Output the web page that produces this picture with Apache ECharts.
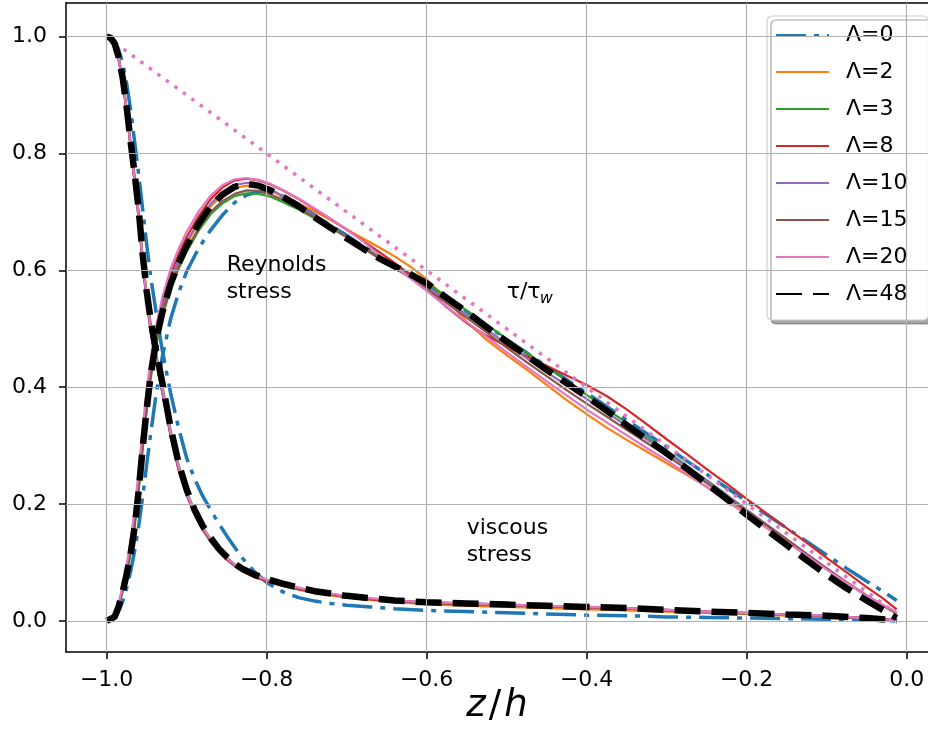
<!DOCTYPE html>
<html><head><meta charset="utf-8">
<script src="https://cdn.jsdelivr.net/npm/echarts@6/dist/echarts.min.js"></script>
<style>html,body{margin:0;padding:0;background:#fff}#c{width:928px;height:747px}</style>
</head><body><div id="c"></div>
<script>
// ---------- data ----------
const lambdaNames = ['Λ=0','Λ=2','Λ=3','Λ=8','Λ=10','Λ=15','Λ=20','Λ=48'];
const xTicks = [-1.0,-0.8,-0.6,-0.4,-0.2,0.0];
const yTicks = [0.0,0.2,0.4,0.6,0.8,1.0];

// Reynolds stress
const zR = [-1.0,-0.99,-0.985,-0.98,-0.975,-0.97,-0.965,-0.96,-0.955,-0.95,-0.945,-0.94,-0.935,-0.93,-0.92,-0.91,-0.9,-0.885,-0.87,-0.855,-0.84,-0.825,-0.81,-0.795,-0.78,-0.76,-0.74,-0.72,-0.7,-0.68,-0.66,-0.64,-0.62,-0.6,-0.575,-0.55,-0.525,-0.5,-0.475,-0.45,-0.425,-0.4,-0.375,-0.35,-0.325,-0.3,-0.275,-0.25,-0.225,-0.2,-0.175,-0.15,-0.125,-0.1,-0.075,-0.05,-0.03,-0.0125];
const R0  = [0,0.005,0.016,0.033,0.056,0.085,0.12,0.162,0.212,0.267,0.32,0.37,0.415,0.455,0.517,0.562,0.598,0.638,0.669,0.695,0.716,0.729,0.735,0.734,0.727,0.713,0.695,0.677,0.66,0.642,0.624,0.608,0.591,0.575,0.553,0.53,0.506,0.482,0.459,0.436,0.413,0.39,0.367,0.344,0.321,0.298,0.274,0.251,0.228,0.205,0.182,0.159,0.136,0.113,0.09,0.068,0.051,0.035];
const R2  = [0,0.008,0.027,0.053,0.085,0.122,0.168,0.23,0.302,0.368,0.424,0.466,0.503,0.533,0.58,0.615,0.645,0.682,0.71,0.729,0.741,0.745,0.742,0.736,0.727,0.714,0.701,0.686,0.67,0.655,0.64,0.624,0.606,0.585,0.55,0.512,0.481,0.455,0.43,0.404,0.378,0.354,0.331,0.31,0.29,0.27,0.25,0.23,0.207,0.185,0.161,0.137,0.113,0.089,0.066,0.044,0.027,0.012];
const R3  = [0,0.007,0.025,0.05,0.08,0.115,0.16,0.222,0.293,0.358,0.414,0.457,0.494,0.523,0.568,0.603,0.632,0.668,0.696,0.715,0.727,0.732,0.731,0.726,0.717,0.704,0.689,0.673,0.657,0.64,0.624,0.609,0.594,0.579,0.555,0.531,0.507,0.483,0.459,0.435,0.411,0.387,0.363,0.339,0.315,0.291,0.266,0.241,0.216,0.19,0.165,0.14,0.115,0.09,0.066,0.043,0.027,0.013];
const R8  = [0,0.008,0.028,0.056,0.09,0.13,0.18,0.245,0.318,0.383,0.437,0.48,0.516,0.546,0.593,0.628,0.657,0.693,0.722,0.742,0.754,0.757,0.754,0.747,0.737,0.722,0.705,0.688,0.67,0.651,0.632,0.613,0.592,0.568,0.537,0.51,0.488,0.47,0.453,0.437,0.42,0.404,0.385,0.362,0.337,0.311,0.286,0.26,0.235,0.209,0.184,0.159,0.134,0.108,0.083,0.058,0.039,0.02];
const R10 = [0,0.008,0.027,0.054,0.087,0.125,0.172,0.232,0.305,0.372,0.428,0.47,0.507,0.537,0.584,0.619,0.648,0.685,0.714,0.734,0.746,0.75,0.747,0.739,0.727,0.711,0.693,0.675,0.657,0.639,0.621,0.605,0.589,0.573,0.549,0.524,0.499,0.474,0.45,0.426,0.403,0.38,0.357,0.334,0.311,0.288,0.264,0.24,0.215,0.19,0.165,0.14,0.115,0.09,0.066,0.043,0.027,0.013];
const R15 = [0,0.007,0.026,0.052,0.083,0.12,0.166,0.228,0.3,0.366,0.421,0.463,0.499,0.528,0.573,0.607,0.636,0.672,0.7,0.719,0.731,0.737,0.736,0.73,0.721,0.707,0.691,0.674,0.657,0.639,0.621,0.604,0.587,0.569,0.544,0.519,0.494,0.468,0.443,0.419,0.395,0.372,0.35,0.327,0.305,0.283,0.26,0.236,0.212,0.188,0.164,0.139,0.114,0.09,0.066,0.043,0.027,0.014];
const R20 = [0,0.009,0.03,0.06,0.096,0.138,0.19,0.256,0.33,0.395,0.448,0.49,0.526,0.556,0.603,0.637,0.666,0.701,0.728,0.746,0.756,0.758,0.755,0.748,0.738,0.723,0.706,0.688,0.67,0.65,0.627,0.607,0.586,0.565,0.538,0.512,0.486,0.46,0.435,0.41,0.386,0.362,0.34,0.318,0.296,0.275,0.252,0.229,0.205,0.182,0.159,0.135,0.112,0.088,0.065,0.043,0.028,0.015];
const R48 = [0,0.007,0.025,0.05,0.08,0.115,0.16,0.222,0.295,0.362,0.42,0.463,0.5,0.53,0.577,0.612,0.642,0.68,0.71,0.73,0.743,0.748,0.745,0.737,0.726,0.71,0.691,0.673,0.655,0.638,0.621,0.607,0.593,0.578,0.553,0.529,0.503,0.478,0.454,0.43,0.407,0.384,0.36,0.335,0.311,0.287,0.261,0.235,0.209,0.182,0.156,0.13,0.104,0.079,0.056,0.035,0.019,0.005];

// viscous stress
const zV = [-1.0,-0.995,-0.99,-0.985,-0.98,-0.975,-0.97,-0.965,-0.96,-0.955,-0.95,-0.945,-0.94,-0.935,-0.93,-0.92,-0.91,-0.9,-0.89,-0.88,-0.87,-0.86,-0.85,-0.84,-0.83,-0.815,-0.8,-0.78,-0.76,-0.74,-0.72,-0.7,-0.67,-0.64,-0.6,-0.55,-0.5,-0.45,-0.4,-0.35,-0.3,-0.25,-0.2,-0.15,-0.1,-0.05,-0.0125];
const V0  = [1.0,0.999,0.993,0.978,0.955,0.92,0.875,0.82,0.765,0.705,0.645,0.59,0.545,0.5,0.46,0.39,0.33,0.279,0.243,0.214,0.19,0.167,0.146,0.126,0.107,0.084,0.066,0.05,0.04,0.034,0.03,0.027,0.024,0.021,0.018,0.016,0.014,0.012,0.01,0.009,0.007,0.006,0.005,0.004,0.003,0.002,0.0];
const V2  = [1.0,0.998,0.987,0.963,0.927,0.876,0.815,0.758,0.697,0.62,0.556,0.505,0.465,0.43,0.395,0.322,0.264,0.22,0.186,0.16,0.139,0.122,0.108,0.096,0.087,0.077,0.07,0.061,0.054,0.048,0.044,0.04,0.036,0.032,0.029,0.026,0.024,0.022,0.02,0.018,0.016,0.014,0.012,0.009,0.007,0.004,0.001];
const V3  = [1.0,0.998,0.988,0.964,0.929,0.878,0.818,0.762,0.701,0.624,0.56,0.51,0.47,0.435,0.4,0.326,0.267,0.222,0.188,0.161,0.14,0.123,0.109,0.097,0.088,0.078,0.071,0.063,0.056,0.05,0.046,0.042,0.038,0.034,0.031,0.029,0.027,0.025,0.023,0.021,0.018,0.015,0.013,0.01,0.008,0.004,0.001];
const V8  = [1.0,0.998,0.986,0.961,0.924,0.872,0.81,0.752,0.69,0.612,0.548,0.497,0.457,0.422,0.388,0.316,0.258,0.215,0.182,0.156,0.136,0.119,0.105,0.094,0.085,0.075,0.068,0.06,0.054,0.049,0.045,0.041,0.037,0.034,0.031,0.029,0.027,0.025,0.023,0.021,0.018,0.016,0.013,0.011,0.008,0.005,0.001];
const V10 = [1.0,0.998,0.986,0.96,0.922,0.87,0.808,0.75,0.688,0.61,0.547,0.497,0.458,0.423,0.389,0.317,0.259,0.216,0.183,0.157,0.137,0.12,0.106,0.095,0.086,0.077,0.07,0.062,0.056,0.05,0.046,0.042,0.038,0.035,0.032,0.03,0.028,0.026,0.024,0.022,0.019,0.016,0.014,0.011,0.009,0.005,0.001];
const V15 = [1.0,0.998,0.987,0.962,0.925,0.874,0.812,0.755,0.694,0.616,0.552,0.502,0.462,0.427,0.393,0.321,0.262,0.218,0.185,0.158,0.138,0.121,0.107,0.096,0.087,0.077,0.07,0.063,0.056,0.05,0.046,0.042,0.038,0.035,0.032,0.03,0.028,0.026,0.024,0.022,0.019,0.016,0.014,0.011,0.009,0.005,0.001];
const V20 = [1.0,0.998,0.987,0.963,0.926,0.875,0.814,0.757,0.696,0.618,0.554,0.504,0.464,0.429,0.395,0.323,0.264,0.22,0.186,0.16,0.14,0.122,0.108,0.097,0.088,0.078,0.071,0.063,0.057,0.051,0.047,0.043,0.039,0.035,0.032,0.03,0.028,0.026,0.024,0.022,0.019,0.016,0.014,0.011,0.009,0.005,0.001];
const V48 = [1.0,0.998,0.988,0.965,0.93,0.88,0.82,0.765,0.705,0.628,0.565,0.515,0.475,0.44,0.405,0.33,0.27,0.225,0.19,0.163,0.142,0.124,0.11,0.098,0.089,0.079,0.072,0.064,0.057,0.051,0.047,0.043,0.039,0.035,0.032,0.03,0.028,0.026,0.024,0.022,0.019,0.016,0.014,0.011,0.009,0.005,0.001];

// total stress tau/tau_w (dotted)
const tauZ = [-1.0,-0.0125];
const tauY = [1.0,0.0125];

// ---------- chart ----------
const FONT = 'DejaVu Sans';
const colors = ['#1f77b4','#ff7f0e','#2ca02c','#d62728','#9467bd','#8c564b','#e377c2','#000000'];
const Rs = [R0,R2,R3,R8,R10,R15,R20,R48];
const Vs = [V0,V2,V3,V8,V10,V15,V20,V48];
const pair = (xs, ys) => xs.map((x,i)=>[x, ys[i]]);
function styleFor(i){
  if (i===0) return {color:colors[0], width:3.5, type:[30,8,5,8]};
  if (i===7) return {color:'#000', width:6.5, type:[26,11]};
  return {color:colors[i], width:2.2, type:'solid'};
}
const minus = v => (v<0?'\u2212':'') + Math.abs(v).toFixed(1);

const series = [];
series.push({
  name:'grid', type:'line', data:[[xTicks[0], yTicks[0]]], showSymbol:false, symbol:'none',
  lineStyle:{opacity:0}, z:1, silent:true,
  markLine:{silent:true, symbol:['none','none'], label:{show:false}, animation:false,
    lineStyle:{color:'#b0b0b0', width:1.2, type:'solid'},
    data:[...xTicks.map(v=>({xAxis:v})), ...yTicks.map(v=>({yAxis:v}))]}
});
for (let i=0;i<8;i++){
  const ls = styleFor(i);
  const common = {type:'line', name:lambdaNames[i], symbol:'none', showSymbol:false,
    smooth:false, color:ls.color, lineStyle:ls, z:2};
  if (i===7) series.push({type:'line', name:'tau', data:pair(tauZ,tauY), symbol:'none', showSymbol:false,
      color:'#e377c2', lineStyle:{color:'#e377c2', width:3.5, type:[3.5,7]}, z:2});
  series.push(Object.assign({}, common, {data:pair(zR, Rs[i])}));
  series.push(Object.assign({}, common, {data:pair(zV, Vs[i])}));
}

const XMIN=-1.0508, XMAX=0.0267, YMIN=-0.0531, YMAX=1.0576;
const chart = echarts.init(document.getElementById('c'), null, {renderer:'canvas'});
chart.setOption({
  animation:false,
  backgroundColor:'#fff',
  grid:{left:66, right:0, top:3, bottom:95, containLabel:false},
  xAxis:[{
    type:'value', min:XMIN, max:XMAX, position:'bottom',
    axisLine:{show:true, onZero:false, lineStyle:{color:'#000', width:1.5}},
    axisTick:{show:true, inside:false, length:7, customValues:xTicks, lineStyle:{color:'#000', width:1.5}},
    axisLabel:{show:true, customValues:xTicks, formatter:minus, margin:17, fontSize:22, fontFamily:FONT, color:'#000'},
    splitLine:{show:false},
    name:'{i|z}{s|/}{i|h}', nameLocation:'middle', nameGap:36, nameMoveOverlap:false,
    nameTextStyle:{fontSize:37, fontFamily:FONT, color:'#000',
      rich:{i:{fontSize:37, fontStyle:'italic', fontFamily:FONT, color:'#000'},
            s:{fontSize:37, fontFamily:FONT, color:'#000', padding:[0,3,0,3]}}}
  },{
    type:'value', min:XMIN, max:XMAX, position:'top',
    axisLine:{show:true, onZero:false, lineStyle:{color:'#000', width:1.5}},
    axisTick:{show:false}, axisLabel:{show:false}, splitLine:{show:false}
  }],
  yAxis:{
    type:'value', min:YMIN, max:YMAX,
    axisLine:{show:true, onZero:false, lineStyle:{color:'#000', width:1.5}},
    axisTick:{show:true, inside:false, length:7, customValues:yTicks, lineStyle:{color:'#000', width:1.5}},
    axisLabel:{show:true, customValues:yTicks, formatter:v=>v.toFixed(1), margin:19, fontSize:22, fontFamily:FONT, color:'#000'},
    splitLine:{show:false}
  },
  legend:{
    data:lambdaNames, orient:'vertical', left:767, top:16,
    padding:[6,21,13,8], itemWidth:53, itemHeight:14, itemGap:11,
    itemStyle:{opacity:0},
    textStyle:{fontSize:22, fontFamily:FONT, color:'#000', lineHeight:26, padding:[0,0,0,12]},
    backgroundColor:'#fff', borderColor:'#d0d0d0', borderWidth:1.2, borderRadius:5,
    shadowColor:'rgba(0,0,0,0.35)', shadowOffsetX:4, shadowOffsetY:4, shadowBlur:0
  },
  series:series
});

// annotations (text placed at data positions)
function P(x,y){ return chart.convertToPixel({xAxisIndex:0, yAxisIndex:0}, [x,y]); }
const fontStr = '22px "DejaVu Sans"';
const texts = [];
function addLine(x, y, txt, dy, font){
  const p = P(x,y);
  texts.push({type:'text', x:p[0], y:p[1]+dy, z:100, silent:true,
    style:{text:txt, font:font||fontStr, fill:'#000', textAlign:'left', textVerticalAlign:'middle', align:'left', verticalAlign:'middle'}});
}
addLine(-0.85, 0.55, 'Reynolds', -7-27.5);
addLine(-0.85, 0.55, 'stress', -7);
addLine(-0.55, 0.10, 'viscous', -7-27.5);
addLine(-0.55, 0.10, 'stress', -7);
addLine(-0.5, 0.55, 'τ/τ', -7);
(function(){ const p=P(-0.5,0.55); texts.push({type:'text', x:p[0]+33, y:p[1]-1, z:100, silent:true,
  style:{text:'w', font:'italic 16px "DejaVu Sans"', fill:'#000', textAlign:'left', textVerticalAlign:'middle', align:'left', verticalAlign:'middle'}}); })();
chart.setOption({graphic:texts});
</script>
</body></html>
